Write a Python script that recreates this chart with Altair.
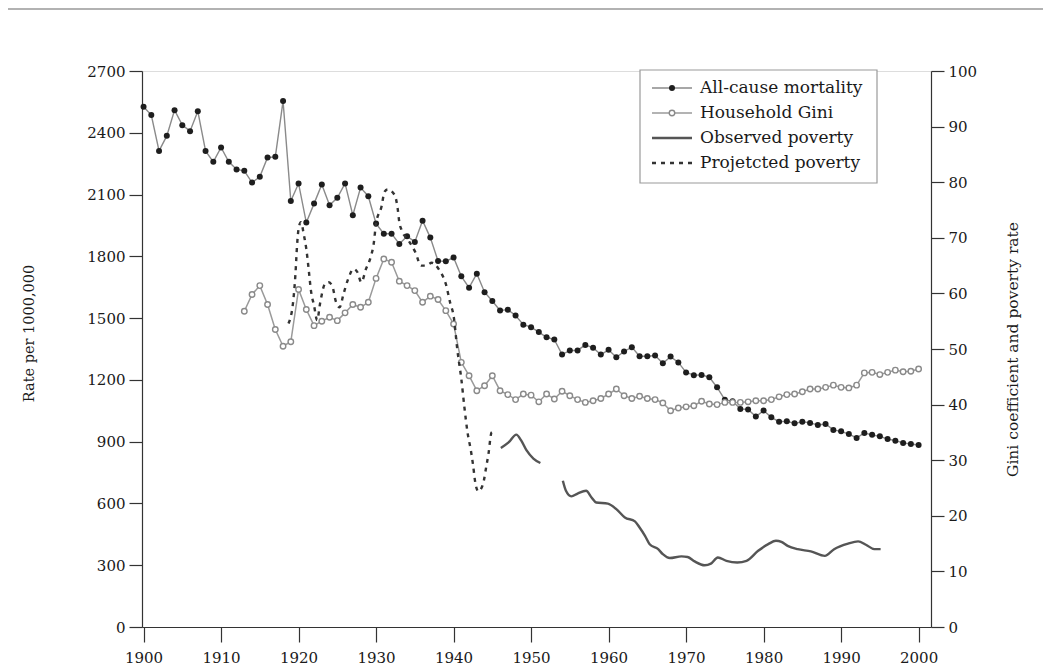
import altair as alt
import pandas as pd

# ---------------- data ----------------
mort_years = list(range(1900, 2001))
mort_values = [
    2526, 2486, 2312, 2385, 2510, 2437, 2408, 2505, 2312, 2259,
    2329, 2259, 2222, 2215, 2158, 2186, 2280, 2283, 2554, 2069,
    2154, 1964, 2056, 2149, 2048, 2084, 2154, 2000, 2134, 2092,
    1959, 1910, 1910, 1860, 1898, 1870, 1973, 1891, 1777, 1776,
    1794, 1703, 1648, 1716, 1626, 1583, 1537, 1541, 1513, 1468,
    1456, 1432, 1407, 1396, 1323, 1343, 1343, 1370, 1356, 1323,
    1346, 1310, 1338, 1359, 1315, 1315, 1318, 1281, 1313, 1285,
    1236, 1223, 1224, 1213, 1164, 1104, 1096, 1059, 1056, 1022,
    1051, 1018, 997, 999, 989, 997, 991, 981, 986, 957,
    950, 937, 918, 942, 933, 926, 913, 905, 894, 889,
    884,
]

gini_years = list(range(1913, 2001))
gini_values = [
    56.8, 59.8, 61.4, 58.0, 53.5, 50.5, 51.3, 60.7, 57.1, 54.2,
    55.0, 55.7, 55.1, 56.5, 58.0, 57.5, 58.4, 62.7, 66.2, 65.6,
    62.2, 61.4, 60.5, 58.4, 59.5, 58.9, 56.9, 54.5, 47.6, 45.2,
    42.5, 43.4, 45.2, 42.5, 41.8, 40.9, 41.9, 41.7, 40.5, 41.9,
    41.0, 42.4, 41.6, 40.9, 40.4, 40.7, 41.1, 41.9, 42.8, 41.6,
    41.1, 41.5, 41.1, 40.9, 40.3, 38.9, 39.4, 39.6, 39.8, 40.6,
    40.1, 40.0, 40.4, 40.4, 40.4, 40.5, 40.7, 40.7, 40.9, 41.4,
    41.8, 41.9, 42.3, 42.8, 42.8, 43.1, 43.5, 43.1, 43.0, 43.5,
    45.7, 45.8, 45.4, 45.8, 46.2, 45.9, 46.0, 46.4,
]

obs_years_a = [1946.1, 1947.1, 1948.1, 1948.7, 1949.4, 1950.3, 1951.2]
obs_values_a = [32.2, 33.2, 34.6, 33.6, 31.8, 30.3, 29.5]

obs_years_b = [
    1954.1, 1954.5, 1955.2, 1956.0, 1957.1, 1957.8, 1958.4, 1959.9, 1961.0, 1962.1,
    1963.4, 1964.0, 1964.7, 1965.3, 1966.4, 1967.0, 1967.9, 1969.4, 1970.2, 1971.1,
    1972.4, 1973.2, 1974.1, 1975.2, 1976.6, 1977.8, 1979.3, 1980.6, 1981.6, 1982.3,
    1983.1, 1984.4, 1986.1, 1987.9, 1989.1, 1990.9, 1992.2, 1993.2, 1994.3, 1995.1,
]
obs_values_b = [
    26.3, 24.5, 23.5, 24.0, 24.5, 23.3, 22.4, 22.2, 21.2, 19.7,
    19.0, 17.9, 16.4, 14.9, 14.0, 13.1, 12.4, 12.7, 12.6, 11.8,
    11.1, 11.4, 12.5, 11.9, 11.6, 11.9, 13.7, 14.9, 15.5, 15.3,
    14.6, 14.0, 13.6, 12.8, 14.0, 15.0, 15.4, 14.8, 14.0, 14.0,
]

proj_years = [
    1918.7, 1919.3, 1919.6, 1919.8, 1920.0, 1920.3, 1920.7, 1921.0, 1921.3, 1921.6,
    1922.0, 1922.4, 1922.8, 1923.4, 1923.9, 1924.4, 1924.8, 1925.3, 1925.8, 1926.4,
    1927.1, 1927.6, 1928.1, 1928.7, 1929.3, 1929.7, 1930.0, 1930.7, 1931.1, 1931.5,
    1932.4, 1932.8, 1933.0, 1933.3, 1934.2, 1935.1, 1935.8, 1936.4, 1937.2, 1938.2,
    1939.0, 1939.6, 1940.0, 1940.5, 1941.0, 1941.4, 1941.8, 1942.2, 1942.5, 1942.8,
    1943.2, 1943.6, 1943.9, 1944.2, 1944.5, 1944.9, 1945.3,
]
proj_values = [
    54.6, 58.5, 63.5, 68.5, 71.6, 72.8, 70.4, 68.0, 64.4, 60.5,
    57.8, 55.2, 58.4, 61.7, 62.0, 61.1, 58.6, 57.5, 59.9, 62.6,
    64.4, 63.8, 62.0, 64.4, 66.5, 69.0, 72.6, 75.6, 78.3, 78.7,
    77.7, 75.1, 72.8, 71.4, 69.5, 67.3, 65.0, 65.0, 65.5, 64.1,
    61.7, 58.1, 56.0, 49.7, 44.6, 39.5, 35.0, 32.0, 29.3, 26.0,
    24.4, 25.0, 26.3, 28.7, 31.1, 35.0, 35.2,
]

x_ticks = list(range(1900, 2001, 10))
left_ticks = list(range(0, 2701, 300))
right_ticks = list(range(0, 101, 10))
legend_labels = ["All-cause mortality", "Household Gini", "Observed poverty", "Projetcted poverty"]

# ---------------- tables ----------------
mort_df = pd.DataFrame({"year": mort_years, "value": mort_values})
gini_df = pd.DataFrame({"year": gini_years, "value": gini_values})
obs_df = pd.concat([
    pd.DataFrame({"year": obs_years_a, "value": obs_values_a, "seg": "a"}),
    pd.DataFrame({"year": obs_years_b, "value": obs_values_b, "seg": "b"}),
])
proj_df = pd.DataFrame({"year": proj_years, "value": proj_values})
one = pd.DataFrame({"k": [0]})

FONT = "DejaVu Serif"
AX = "#333333"
TXT = "#1a1a1a"

W, H = 789, 556
PL, PT = 142, 71  # page position of the plot area's top-left corner

xscale = alt.Scale(domain=[1899.8, 2001.6], nice=False, zero=False)
x_axis = alt.Axis(values=x_ticks, format="d", title=None, grid=False, tickSize=15,
                  labelFontSize=15, labelPadding=8, labelFont=FONT, labelColor=TXT,
                  domainColor=AX, tickColor=AX, domainWidth=1.2, tickWidth=1.2)
X = alt.X("year:Q", scale=xscale, axis=x_axis)

yl_scale = alt.Scale(domain=[0, 2700], nice=False)
yl_axis = alt.Axis(values=left_ticks, format="d", title="Rate per 1000,000", grid=False,
                   tickSize=13, labelFontSize=15, labelPadding=4, labelFont=FONT,
                   labelColor=TXT, domainColor=AX, tickColor=AX, domainWidth=1.2,
                   tickWidth=1.2, titleFont=FONT, titleFontSize=14.5, titleFontWeight="normal",
                   titleColor=TXT, titlePadding=50, titleY=262)
yr_scale = alt.Scale(domain=[0, 100], nice=False)
yr_axis = alt.Axis(values=right_ticks, format="d", orient="right",
                   title="Gini coefficient and poverty rate", grid=False,
                   tickSize=13, labelFontSize=15, labelPadding=4, labelFont=FONT,
                   labelColor=TXT, domainColor=AX, tickColor=AX, domainWidth=1.2,
                   tickWidth=1.2, titleFont=FONT, titleFontSize=15.5, titleFontWeight="normal",
                   titleColor=TXT, titlePadding=44, titleAngle=-90)

YL = alt.Y("value:Q", scale=yl_scale, axis=yl_axis)
YR = alt.Y("value:Q", scale=yr_scale, axis=yr_axis)

mort_line = alt.Chart(mort_df).mark_line(color="#8a8a8a", strokeWidth=1.4).encode(x=X, y=YL)
mort_pts = alt.Chart(mort_df).mark_point(filled=True, color="#1e1e1e", size=36, opacity=1).encode(x=X, y=YL)
left_group = alt.layer(mort_line, mort_pts)

gini_line = alt.Chart(gini_df).mark_line(color="#9a9a9a", strokeWidth=1.5).encode(x=X, y=YR)
gini_pts = alt.Chart(gini_df).mark_point(filled=False, fill="white", stroke="#8a8a8a",
                                         strokeWidth=1.4, size=30, opacity=1).encode(x=X, y=YR)
obs_line = alt.Chart(obs_df).mark_line(color="#555555", strokeWidth=2.4,
                                       interpolate="monotone").encode(x=X, y=YR, detail="seg:N")
proj_line = alt.Chart(proj_df).mark_line(color="#333333", strokeWidth=2.4, strokeDash=[4, 5],
                                         interpolate="monotone").encode(x=X, y=YR)
right_group = alt.layer(gini_line, gini_pts, obs_line, proj_line)

main = alt.layer(left_group, right_group).resolve_scale(y="independent")

# ---------------- legend (drawn by hand) ----------------
bx0, bx1, by0, by1 = 640 - PL, 877 - PL, 70 - PT, 183 - PT
legend_layers = [
    alt.Chart(one).mark_rect(fill="white", stroke="#9a9a9a", strokeWidth=1.2).encode(
        x=alt.value(bx0), x2=alt.value(bx1), y=alt.value(by0), y2=alt.value(by1))
]
sx0, sx1, sxm, tx = 652 - PL, 692 - PL, 672 - PL, 700 - PL
styles = [
    dict(color="#8a8a8a", dash=None, w=1.4, pt="filled"),
    dict(color="#9a9a9a", dash=None, w=1.5, pt="open"),
    dict(color="#555555", dash=None, w=2.4, pt=None),
    dict(color="#333333", dash=[4, 5], w=2.4, pt=None),
]
for i, (lab, st) in enumerate(zip(legend_labels, styles)):
    yy = 88 - PT + 25 * i
    rule_kw = dict(color=st["color"], strokeWidth=st["w"])
    if st["dash"]:
        rule_kw["strokeDash"] = st["dash"]
    legend_layers.append(alt.Chart(one).mark_rule(**rule_kw).encode(
        x=alt.value(sx0), x2=alt.value(sx1), y=alt.value(yy)))
    if st["pt"] == "filled":
        legend_layers.append(alt.Chart(one).mark_point(filled=True, color="#1e1e1e", size=36,
                                                       opacity=1).encode(
            x=alt.value(sxm), y=alt.value(yy)))
    elif st["pt"] == "open":
        legend_layers.append(alt.Chart(one).mark_point(filled=False, fill="white", stroke="#8a8a8a",
                                                       strokeWidth=1.4, size=30, opacity=1).encode(
            x=alt.value(sxm), y=alt.value(yy)))
    legend_layers.append(alt.Chart(one).mark_text(align="left", baseline="middle", font=FONT,
                                                  fontSize=17, color=TXT).encode(
        x=alt.value(tx), y=alt.value(yy), text=alt.value(lab)))

top_rule = alt.Chart(one).mark_rule(color="#666666", strokeWidth=1.2).encode(
    x=alt.value(-PL + 8), x2=alt.value(1043 - PL), y=alt.value(9 - PT))

chart = alt.layer(main, *legend_layers, top_rule).properties(
    width=W, height=H,
    padding={"left": PL - 8, "top": PT - 8, "right": 1035 - (PL - 8) - W, "bottom": 663 - (PT - 8) - H},
    autosize=alt.AutoSizeParams(type="none"),
).configure_view(stroke=None).configure(background="white")

chart.save("out.html", embed_options={"renderer": "svg", "actions": False})
